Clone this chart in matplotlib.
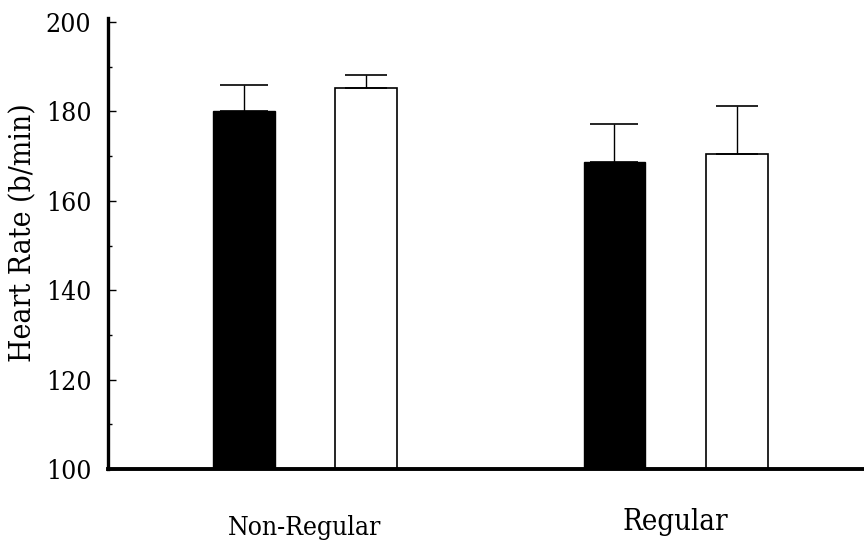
#!/usr/bin/env python3
"""Heart rate bar chart, non-regular vs regular groups."""

import matplotlib
matplotlib.use("Agg")
import matplotlib.pyplot as plt
import numpy as np

groups = ["Non-Regular", "Regular"]
black_means = [180.2, 168.6]
black_err = [5.7, 8.6]
white_means = [185.2, 170.5]
white_err = [3.0, 10.7]

FONT = dict(family="DejaVu Serif", stretch="condensed")

fig = plt.figure(figsize=(8.64, 5.4), dpi=100)
ax = fig.add_axes([0.125, 0.1315, 0.875, 0.836])

x = np.array([0.0, 1.0])
offset = 0.165
width = 0.167

ax.bar(x - offset, black_means, width, color="black", edgecolor="black", linewidth=1.0)
ax.bar(x + offset, white_means, width, color="white", edgecolor="black", linewidth=1.2)
ax.errorbar(x - offset, black_means, yerr=[np.zeros(2), black_err], fmt="none",
            ecolor="black", elinewidth=1.0, capsize=17, capthick=1.2)
ax.errorbar(x + offset, white_means, yerr=[np.zeros(2), white_err], fmt="none",
            ecolor="black", elinewidth=1.0, capsize=15, capthick=1.2)

ax.set_xlim(-0.531, 1.508)
ax.set_ylim(100, 201)

for side in ("top", "right"):
    ax.spines[side].set_visible(False)
ax.spines["left"].set_linewidth(2.4)
ax.spines["bottom"].set_linewidth(2.8)

ax.set_yticks(np.arange(100, 201, 20))
ax.set_yticks(np.arange(110, 200, 20), minor=True)
ax.tick_params(axis="y", which="major", direction="in", length=6, width=1.0, pad=12)
ax.tick_params(axis="y", which="minor", direction="in", length=3, width=1.0)
for lab in ax.get_yticklabels():
    lab.set_fontsize(19)
    lab.set_fontfamily("DejaVu Serif")
    lab.set_fontstretch("condensed")

ax.set_xticks([])
ax.text(x[0], -0.146, groups[0], transform=ax.get_xaxis_transform(), ha="center",
        va="baseline", fontsize=19, **FONT)
ax.text(x[1], -0.135, groups[1], transform=ax.get_xaxis_transform(), ha="center",
        va="baseline", fontsize=21, **FONT)

fig.text(0.027, 0.57, "Heart Rate (b/min)", rotation=90, ha="center", va="center",
         fontsize=21.5, **FONT)

fig.savefig("out.png", dpi=100)
